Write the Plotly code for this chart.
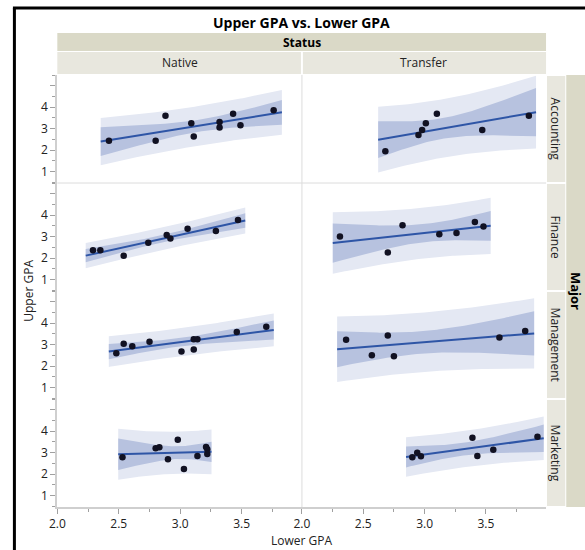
import numpy as np
import plotly.graph_objects as go

# ---------------- data ----------------
majors = ["Accounting", "Finance", "Management", "Marketing"]
statuses = ["Native", "Transfer"]
x_tick_vals = [2.0, 2.5, 3.0, 3.5]
x_tick_text = ["2.0", "2.5", "3.0", "3.5"]
y_tick_vals = [1, 2, 3, 4, 5]
y_tick_text = ["1", "2", "3", "4", ""]

nat_acc_x = [2.42, 2.80, 2.88, 3.09, 3.11, 3.32, 3.32, 3.43, 3.49, 3.76]
nat_acc_y = [2.44, 2.44, 3.61, 3.25, 2.64, 3.31, 3.05, 3.70, 3.16, 3.86]
tr_acc_x = [2.68, 2.95, 2.98, 3.01, 3.10, 3.47, 3.85]
tr_acc_y = [1.94, 2.71, 2.94, 3.25, 3.70, 2.94, 3.61]

nat_fin_x = [2.29, 2.35, 2.54, 2.74, 2.89, 2.92, 3.06, 3.29, 3.47]
nat_fin_y = [2.36, 2.36, 2.11, 2.72, 3.08, 2.91, 3.37, 3.26, 3.78]
tr_fin_x = [2.31, 2.70, 2.82, 3.12, 3.26, 3.41, 3.48]
tr_fin_y = [3.01, 2.26, 3.53, 3.11, 3.17, 3.69, 3.48]

nat_mgt_x = [2.48, 2.54, 2.61, 2.75, 3.01, 3.11, 3.11, 3.14, 3.46, 3.70]
nat_mgt_y = [2.60, 3.04, 2.93, 3.14, 2.68, 3.25, 2.77, 3.25, 3.59, 3.84]
tr_mgt_x = [2.36, 2.57, 2.70, 2.75, 3.61, 3.82]
tr_mgt_y = [3.23, 2.51, 3.43, 2.46, 3.34, 3.64]

nat_mkt_x = [2.53, 2.80, 2.83, 2.90, 2.98, 3.03, 3.14, 3.21, 3.22, 3.22]
nat_mkt_y = [2.79, 3.21, 3.25, 2.69, 3.61, 2.24, 2.85, 3.27, 3.16, 2.94]
tr_mkt_x = [2.90, 2.94, 2.97, 3.39, 3.43, 3.56, 3.92]
tr_mkt_y = [2.79, 3.00, 2.83, 3.70, 2.85, 3.14, 3.75]

panels = {
    (0, 0): (nat_acc_x, nat_acc_y), (0, 1): (tr_acc_x, tr_acc_y),
    (1, 0): (nat_fin_x, nat_fin_y), (1, 1): (tr_fin_x, tr_fin_y),
    (2, 0): (nat_mgt_x, nat_mgt_y), (2, 1): (tr_mgt_x, tr_mgt_y),
    (3, 0): (nat_mkt_x, nat_mkt_y), (3, 1): (tr_mkt_x, tr_mkt_y),
}

T975 = {3: 3.182, 4: 2.776, 5: 2.571, 6: 2.447, 7: 2.365, 8: 2.306,
        9: 2.262, 10: 2.228, 11: 2.201, 12: 2.179}


def fit_bands(x, y):
    x = np.asarray(x, float)
    y = np.asarray(y, float)
    n = len(x)
    b1, b0 = np.polyfit(x, y, 1)
    res = y - (b0 + b1 * x)
    s = np.sqrt(np.sum(res ** 2) / (n - 2))
    xb = x.mean()
    sxx = np.sum((x - xb) ** 2)
    r = x.max() - x.min()
    xs = np.linspace(x.min() - 0.05 * r, x.max() + 0.05 * r, 80)
    yh = b0 + b1 * xs
    t = T975[n - 2]
    c = t * s * np.sqrt(1 / n + (xs - xb) ** 2 / sxx)
    p = t * s * np.sqrt(1 + 1 / n + (xs - xb) ** 2 / sxx)
    return xs, yh, c, p


# ---------------- geometry ----------------
W, H = 585, 550


def PX(v):
    return v / W


def PY(v):
    return 1 - v / H


LEFT, MID, RIGHT = 50, 298, 545.5
ROW_TOP, ROW_H = 75, 108
FONT = "Open Sans"

PRED_FILL = "#e4e8f3"
CONF_FILL = "#b7c2df"
LINE_COL = "#2e55a6"
PT_COL = "#111122"

fig = go.Figure()

for (r, c), (xv, yv) in panels.items():
    xa = "x" if c == 0 else "x2"
    ya = "y" if r == 0 else f"y{r + 1}"
    xs, yh, ci, pi = fit_bands(xv, yv)
    fig.add_trace(go.Scatter(
        x=np.concatenate([xs, xs[::-1]]),
        y=np.concatenate([yh + pi, (yh - pi)[::-1]]),
        fill="toself", fillcolor=PRED_FILL, line=dict(width=0),
        mode="lines", hoverinfo="skip", showlegend=False, xaxis=xa, yaxis=ya))
    fig.add_trace(go.Scatter(
        x=np.concatenate([xs, xs[::-1]]),
        y=np.concatenate([yh + ci, (yh - ci)[::-1]]),
        fill="toself", fillcolor=CONF_FILL, line=dict(width=0),
        mode="lines", hoverinfo="skip", showlegend=False, xaxis=xa, yaxis=ya))
    fig.add_trace(go.Scatter(
        x=xs, y=yh, mode="lines", line=dict(color=LINE_COL, width=2),
        showlegend=False, xaxis=xa, yaxis=ya))
    fig.add_trace(go.Scatter(
        x=xv, y=yv, mode="markers",
        marker=dict(color=PT_COL, size=6.5),
        showlegend=False, xaxis=xa, yaxis=ya))

tickfont = dict(family=FONT, size=12, color="#222222")
xcommon = dict(range=[2.0, 3.99], tickvals=x_tick_vals, ticktext=x_tick_text,
               ticks="outside", ticklen=5, tickcolor="#a0a0a0",
               showline=True, linecolor="#cfcfcf", linewidth=2,
               showgrid=False, zeroline=False, tickfont=tickfont,
               minor=dict(tick0=2.0, dtick=0.25, ticks="outside", ticklen=3,
                          tickcolor="#a0a0a0"),
               anchor="y4", fixedrange=True)

layout = dict(
    width=W, height=H, margin=dict(l=0, r=0, t=0, b=0),
    paper_bgcolor="white", plot_bgcolor="white",
    font=dict(family=FONT, color="#222222"),
    showlegend=False,
    xaxis=dict(domain=[PX(LEFT), PX(MID)], **xcommon),
    xaxis2=dict(domain=[PX(MID), PX(RIGHT)], **xcommon),
)

for r in range(4):
    top = ROW_TOP + ROW_H * r
    bot = top + ROW_H
    key = "yaxis" if r == 0 else f"yaxis{r + 1}"
    layout[key] = dict(
        domain=[PY(bot), PY(top)], range=[0.46, 5.51], anchor="x",
        tickvals=y_tick_vals, ticktext=y_tick_text,
        ticks="outside", ticklen=5, tickcolor="#a0a0a0",
        showline=True, linecolor="#cfcfcf", linewidth=2,
        showgrid=False, zeroline=False, tickfont=tickfont,
        minor=dict(tick0=0.5, dtick=0.5, ticks="outside", ticklen=3,
                   tickcolor="#a0a0a0"),
        fixedrange=True)

DARK = "#dad9c7"
LIGHT = "#e8e7de"
shapes = []


def rect(x0, y0, x1, y1, col):
    shapes.append(dict(type="rect", xref="paper", yref="paper",
                       x0=PX(x0), x1=PX(x1), y0=PY(y1), y1=PY(y0),
                       fillcolor=col, line=dict(width=0), layer="below"))


def line(x0, y0, x1, y1, col, w):
    shapes.append(dict(type="line", xref="paper", yref="paper",
                       x0=PX(x0), x1=PX(x1), y0=PY(y0), y1=PY(y1),
                       line=dict(color=col, width=w)))


# header strips
rect(LEFT, 33, RIGHT, 51, DARK)
rect(LEFT, 52, MID - 1, 74, LIGHT)
rect(MID + 1, 52, RIGHT, 74, LIGHT)
# right strips
for r in range(4):
    top = ROW_TOP + ROW_H * r
    rect(546.5, top + 1, 565, top + ROW_H - 1, LIGHT)
rect(566, ROW_TOP, 585, ROW_TOP + 4 * ROW_H, DARK)

# panel dividers
line(MID, ROW_TOP, MID, ROW_TOP + 4 * ROW_H, "#dcdcdc", 1)
line(LEFT, ROW_TOP + ROW_H, RIGHT, ROW_TOP + ROW_H, "#dcdcdc", 1)

# black frame of the report
line(5, 8, 585, 8, "black", 3)
line(6.5, 8, 6.5, 550, "black", 3)

annotations = [
    dict(text="<b>Upper GPA vs. Lower GPA</b>", x=PX(298), y=PY(22),
         font=dict(size=14, color="black")),
    dict(text="<b>Status</b>", x=PX(298), y=PY(42),
         font=dict(size=12, color="black")),
    dict(text=statuses[0], x=PX((LEFT + MID) / 2), y=PY(63),
         font=dict(size=12, color="#222222")),
    dict(text=statuses[1], x=PX((MID + RIGHT) / 2), y=PY(63),
         font=dict(size=12, color="#222222")),
    dict(text="<b>Major</b>", x=PX(576), y=PY(ROW_TOP + 2 * ROW_H),
         textangle=90, font=dict(size=13, color="black")),
    dict(text="Upper GPA", x=PX(20), y=PY(ROW_TOP + 2 * ROW_H),
         textangle=-90, font=dict(size=12, color="#222222")),
    dict(text="Lower GPA", x=PX(298), y=PY(540),
         font=dict(size=12, color="#222222")),
]
for r, m in enumerate(majors):
    annotations.append(dict(text=m, x=PX(556), y=PY(ROW_TOP + ROW_H * r + ROW_H / 2),
                            textangle=90, font=dict(size=12, color="#222222")))
for a in annotations:
    a.update(xref="paper", yref="paper", showarrow=False,
             xanchor="center", yanchor="middle")

layout["shapes"] = shapes
layout["annotations"] = annotations
fig.update_layout(**layout)

fig.write_html(
    "out.html",
    config={"displayModeBar": False},
    post_script="document.body.style.margin='0';document.body.style.overflow='hidden';",
)
